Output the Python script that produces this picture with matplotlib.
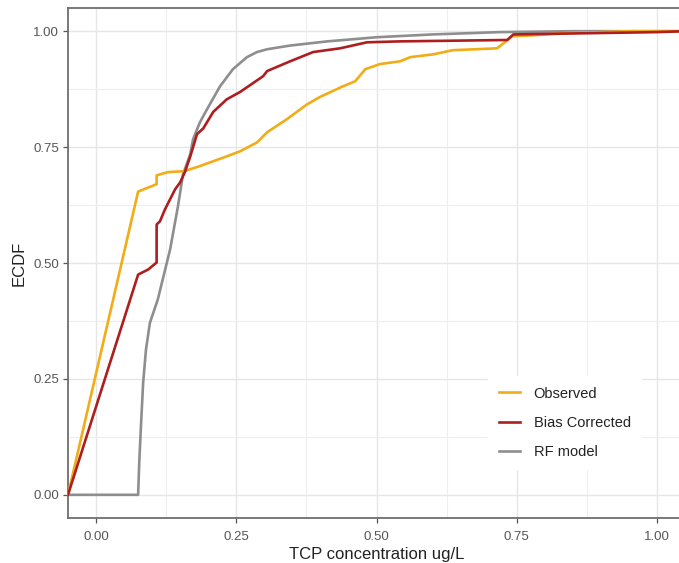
import matplotlib
matplotlib.use("Agg")
import matplotlib.pyplot as plt
from matplotlib.ticker import MultipleLocator

# ECDF curves (x = TCP concentration, y = ECDF)
obs_x = [-0.05, 0.075, 0.108, 0.108, 0.128, 0.157, 0.185, 0.233, 0.257, 0.287,
         0.305, 0.340, 0.376, 0.399, 0.440, 0.462, 0.480, 0.506, 0.542, 0.560,
         0.601, 0.636, 0.715, 0.742, 0.779, 0.839, 0.957, 1.05]
obs_y = [0.0, 0.654, 0.670, 0.689, 0.696, 0.698, 0.709, 0.730, 0.741, 0.760,
         0.782, 0.810, 0.842, 0.858, 0.881, 0.892, 0.918, 0.929, 0.935, 0.944,
         0.950, 0.959, 0.963, 0.989, 0.991, 0.996, 1.0, 1.0]

bc_x = [-0.05, 0.075, 0.093, 0.108, 0.108, 0.114, 0.123, 0.141, 0.150, 0.159,
        0.168, 0.180, 0.191, 0.209, 0.233, 0.257, 0.298, 0.305, 0.346, 0.387,
        0.435, 0.483, 0.542, 0.733, 0.744, 1.0, 1.05]
bc_y = [0.0, 0.475, 0.486, 0.501, 0.583, 0.590, 0.616, 0.659, 0.674, 0.698,
        0.730, 0.778, 0.790, 0.826, 0.853, 0.869, 0.903, 0.914, 0.935, 0.955,
        0.963, 0.976, 0.978, 0.981, 0.993, 0.998, 1.0]

rf_x = [-0.05, 0.075, 0.077, 0.080, 0.084, 0.089, 0.096, 0.110, 0.132, 0.146,
        0.155, 0.168, 0.173, 0.185, 0.198, 0.221, 0.244, 0.269, 0.287, 0.305,
        0.346, 0.412, 0.501, 0.600, 0.720, 0.85, 1.05]
rf_y = [0.0, 0.0, 0.069, 0.147, 0.242, 0.313, 0.371, 0.421, 0.529, 0.622,
        0.691, 0.735, 0.767, 0.803, 0.832, 0.881, 0.918, 0.944, 0.955, 0.961,
        0.969, 0.978, 0.987, 0.993, 0.998, 1.0, 1.0]

x_ticks = [0.0, 0.25, 0.5, 0.75, 1.0]
y_ticks = [0.0, 0.25, 0.5, 0.75, 1.0]

plt.rcParams['font.family'] = ['Liberation Sans', 'DejaVu Sans']

fig = plt.figure(figsize=(6.79, 5.63), dpi=100)
# panel runs slightly past the right edge like the cropped original
ax = fig.add_axes([68 / 679, 1 - 518 / 563, (685 - 68) / 679, (518 - 8) / 563])

ax.plot(obs_x, obs_y, color='#F2AC16', lw=1.9, label='Observed', zorder=3)
ax.plot(bc_x, bc_y, color='#AE1E1E', lw=1.9, label='Bias Corrected', zorder=4)
ax.plot(rf_x, rf_y, color='#8E8E8E', lw=1.9, label='RF model', zorder=2)

ax.set_xlim(-0.05, 1.05)
ax.set_ylim(-0.05, 1.05)
ax.set_xticks(x_ticks)
ax.set_yticks(y_ticks)
ax.set_xticklabels([f"{t:.2f}" for t in x_ticks])
ax.set_yticklabels([f"{t:.2f}" for t in y_ticks])
ax.xaxis.set_minor_locator(MultipleLocator(0.125))
ax.yaxis.set_minor_locator(MultipleLocator(0.125))

ax.grid(which='major', color='#E6E6E6', lw=1.0)
ax.grid(which='minor', color='#EEEEEE', lw=0.8)
ax.set_axisbelow(True)
ax.tick_params(which='minor', length=0)
ax.tick_params(which='major', length=3.5, width=0.9, color='#555555',
               labelcolor='#555555', labelsize=9.5)
ax.tick_params(axis='x', pad=6)
ax.tick_params(axis='y', pad=3)

for s in ax.spines.values():
    s.set_color('#6E6E6E')
    s.set_linewidth(1.3)

ax.set_xlabel('TCP concentration ug/L', fontsize=12, color='#222222', labelpad=3)
ax.set_ylabel('ECDF', fontsize=12, color='#222222', labelpad=5)

leg = ax.legend(loc='upper left', bbox_to_anchor=(481 / 679, 1 - 369 / 563),
                bbox_transform=fig.transFigure, frameon=True, fancybox=False,
                edgecolor='white', framealpha=1, fontsize=10.5, handlelength=1.5,
                handletextpad=0.9, labelspacing=1.05, borderpad=0.7)
for t in leg.get_texts():
    t.set_color('#222222')

fig.savefig('out.png', dpi=100)
